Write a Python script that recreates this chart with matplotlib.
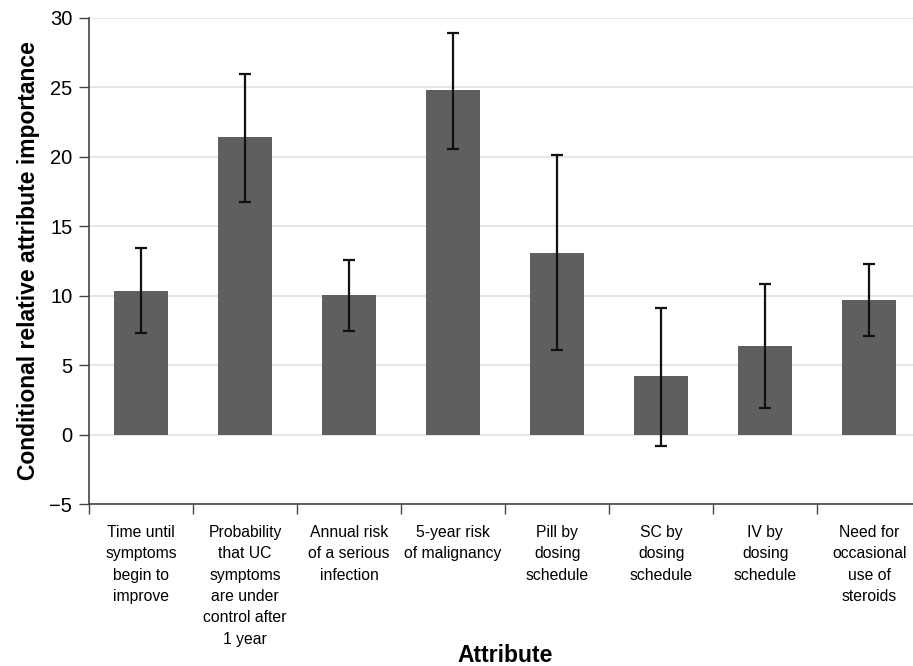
import matplotlib
matplotlib.use('Agg')
import matplotlib.pyplot as plt
import numpy as np
import matplotlib.ticker as ticker

# attribute labels (as wrapped in the figure)
attributes = [
    'Time until\nsymptoms\nbegin to\nimprove',
    'Probability\nthat UC\nsymptoms\nare under\ncontrol after\n1 year',
    'Annual risk\nof a serious\ninfection',
    '5-year risk\nof malignancy',
    'Pill by\ndosing\nschedule',
    'SC by\ndosing\nschedule',
    'IV by\ndosing\nschedule',
    'Need for\noccasional\nuse of\nsteroids',
]
importance = [10.35, 21.4, 10.05, 24.8, 13.1, 4.25, 6.4, 9.7]
ci_low = [7.3, 16.75, 7.45, 20.6, 6.1, -0.85, 1.9, 7.1]
ci_high = [13.45, 26.0, 12.6, 28.95, 20.15, 9.1, 10.85, 12.3]
y_ticks = [-5, 0, 5, 10, 15, 20, 25, 30]


def main():
    sans = ['Liberation Sans', 'DejaVu Sans']

    fig = plt.figure(figsize=(9.13, 6.66), dpi=100)
    ax = fig.add_axes([0.0975, 0.2432, 0.9025, 0.7298])

    x = np.arange(len(attributes))
    vals = np.array(importance)
    yerr = [vals - np.array(ci_low), np.array(ci_high) - vals]

    ax.bar(x, vals, width=0.52, color='#5f5f5f', zorder=2)
    ax.errorbar(x, vals, yerr=yerr, fmt='none', ecolor='#111111',
                elinewidth=1.6, capsize=4, capthick=1.6, zorder=3)

    ax.set_xlim(-0.5, 7.42)
    ax.set_ylim(-5, 30)
    ax.set_yticks(y_ticks)
    ax.set_yticklabels(['\u22125' if t < 0 else str(t) for t in y_ticks],
                       family=sans, fontsize=14.5)
    ax.yaxis.grid(True, color='#e2e2e2', linewidth=1.2, zorder=0)
    ax.set_axisbelow(True)

    # ticks between categories, labels at category centres
    ax.xaxis.set_major_locator(ticker.FixedLocator(np.arange(-0.5, 8, 1.0)))
    ax.xaxis.set_major_formatter(ticker.NullFormatter())
    ax.xaxis.set_minor_locator(ticker.FixedLocator(x))
    ax.xaxis.set_minor_formatter(ticker.FixedFormatter(attributes))
    ax.tick_params(axis='x', which='major', length=7, width=1, color='#444444')
    ax.tick_params(axis='x', which='minor', length=0, pad=15, labelsize=11.3)
    ax.tick_params(axis='y', length=7, width=1, color='#444444', pad=5)
    for lab in ax.xaxis.get_minorticklabels():
        lab.set_family(sans)
        lab.set_linespacing(1.53)
        lab.set_verticalalignment('top')

    for side in ['top', 'right']:
        ax.spines[side].set_visible(False)
    for side in ['left', 'bottom']:
        ax.spines[side].set_color('#444444')
        ax.spines[side].set_linewidth(1.2)

    ax.set_ylabel('Conditional relative attribute importance', family=sans,
                  fontsize=16.5, fontweight='bold', labelpad=7)
    fig.text(0.553, 0.0165, 'Attribute', ha='center', va='center',
             family=sans, fontsize=16.5, fontweight='bold')

    fig.savefig('out.png', dpi=100)


if __name__ == '__main__':
    main()
